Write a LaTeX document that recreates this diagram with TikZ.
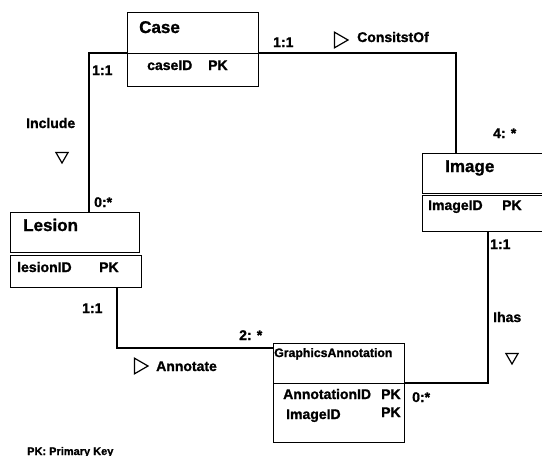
\documentclass[tikz,border=0pt]{standalone}
\usepackage{fontspec}
\setmainfont[BoldFeatures={FakeBold=1.2}]{Liberation Sans}
\usetikzlibrary{shapes.geometric}
\begin{document}
\begin{tikzpicture}[x=1pt,y=-1pt,
  box/.style={draw,line width=1.4pt,rectangle,inner sep=0pt,anchor=north west},
  conn/.style={draw,line width=1.2pt},
  ttl/.style={anchor=base west,inner sep=0pt,font=\fontsize{17}{17}\selectfont\bfseries},
  att/.style={anchor=base west,inner sep=0pt,font=\fontsize{14}{14}\selectfont\bfseries},
  lbl/.style={anchor=base west,inner sep=0pt,font=\fontsize{14}{14}\selectfont\bfseries},
  tri/.style={draw,line width=1.2pt,regular polygon,regular polygon sides=3,inner sep=0pt}]
\useasboundingbox (0,0) rectangle (542,456);
% Case
\node[box,minimum width=131pt,minimum height=41pt] (caseH) at (127,12) {};
\node[box,minimum width=131pt,minimum height=33pt] (caseB) at (127,53) {};
\node[ttl] (caseT) at (139,33) {Case};
\node[att] (caseA) at (147,70) {caseID};
\node[att] (caseK) at (208,70) {PK};
% Lesion
\node[box,minimum width=129pt,minimum height=40pt] (lesH) at (10,212) {};
\node[box,minimum width=131pt,minimum height=32pt] (lesB) at (10,255) {};
\node[ttl] (lesT) at (23,231) {Lesion};
\node[att] (lesA) at (17,272) {lesionID};
\node[att] (lesK) at (99,272) {PK};
% Image (clipped at right edge)
\begin{scope}
\clip (0,0) rectangle (542,456);
\node[box,minimum width=130pt,minimum height=40pt] (imgH) at (422,153) {};
\node[box,minimum width=130pt,minimum height=36pt] (imgB) at (422,195) {};
\end{scope}
\node[ttl] (imgT) at (445,172) {Image};
\node[att] (imgA) at (428,210) {ImageID};
\node[att] (imgK) at (502,210) {PK};
% GraphicsAnnotation
\node[box,minimum width=131pt,minimum height=40pt] (gaH) at (273,343) {};
\node[box,minimum width=131pt,minimum height=59pt] (gaB) at (273,383) {};
\node[anchor=base west,inner sep=0pt,font=\fontsize{12.3}{12}\selectfont\bfseries] (gaT) at (274,357) {GraphicsAnnotation};
\node[att] (gaA1) at (283,399) {AnnotationID};
\node[att] (gaK1) at (381,399) {PK};
\node[att] (gaA2) at (286,419) {ImageID};
\node[att] (gaK2) at (381,417) {PK};
% connector end points
\coordinate (lesIn) at (89,212);
\coordinate (imgIn) at (456,153);
\coordinate (lesOut) at (117,287);
\coordinate (gaIn) at (273,348);
\coordinate (imgOut) at (488,231);
% connectors
\draw[conn] (caseB.north west) -| (lesIn);
\draw[conn] (caseB.north east) -| (imgIn);
\draw[conn] (lesOut) |- (gaIn);
\draw[conn] (imgOut) |- (gaB.north east);
% labels
\node[lbl] (m1) at (92,75) {1:1};
\node[lbl] (incl) at (26,128) {Include};
\node[tri,minimum size=14pt,shape border rotate=180] (t1) at (62,156) {};
\node[lbl] (m2) at (94,207) {0:*};
\node[lbl] (m3) at (273,47) {1:1};
\node[tri,minimum size=18pt,shape border rotate=-90] (t2) at (339,40) {};
\node[lbl] (cons) at (357,42) {ConsitstOf};
\node[lbl] (m4) at (493,138) {4: *};
\node[lbl] (m5) at (490,249) {1:1};
\node[lbl] (ihas) at (493,322) {Ihas};
\node[tri,minimum size=14pt,shape border rotate=180] (t3) at (512,357) {};
\node[lbl] (m6) at (412,402) {0:*};
\node[lbl] (m7) at (82,313) {1:1};
\node[lbl] (m8) at (239,340) {2: *};
\node[tri,minimum size=18pt,shape border rotate=-90] (t4) at (139,366) {};
\node[lbl] (anno) at (156,371) {Annotate};
\node[anchor=base west,inner sep=0pt,font=\fontsize{11}{11}\selectfont\bfseries] (pk) at (27,455) {PK: Primary Key};
\end{tikzpicture}
\end{document}
